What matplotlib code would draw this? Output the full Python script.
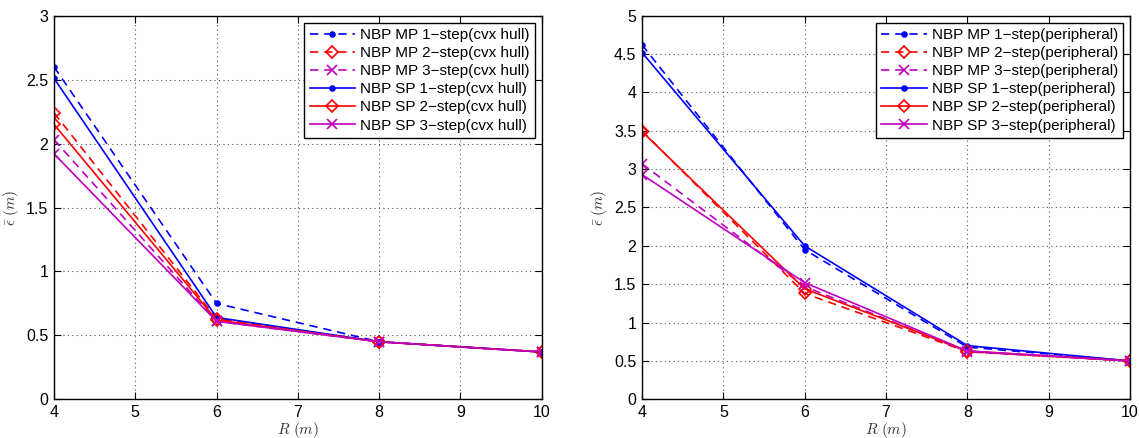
import matplotlib
matplotlib.use("Agg")
import matplotlib.pyplot as plt

plt.rcParams['font.family'] = ['Liberation Sans', 'DejaVu Sans']
plt.rcParams['mathtext.fontset'] = 'cm'

R = [4, 6, 8, 10]

# left panel (cvx hull)
mp1_cvx = [2.60, 0.75, 0.45, 0.37]
mp2_cvx = [2.24, 0.63, 0.45, 0.37]
mp3_cvx = [2.03, 0.61, 0.45, 0.37]
sp1_cvx = [2.51, 0.64, 0.45, 0.37]
sp2_cvx = [2.15, 0.62, 0.45, 0.37]
sp3_cvx = [1.92, 0.61, 0.45, 0.37]

# right panel (peripheral)
mp1_per = [4.62, 1.95, 0.68, 0.50]
mp2_per = [3.50, 1.38, 0.62, 0.50]
mp3_per = [3.07, 1.47, 0.62, 0.50]
sp1_per = [4.52, 2.00, 0.70, 0.50]
sp2_per = [3.49, 1.44, 0.63, 0.50]
sp3_per = [2.93, 1.52, 0.63, 0.50]

left_labels = ['NBP MP 1\u2212step(cvx hull)', 'NBP MP 2\u2212step(cvx hull)',
               'NBP MP 3\u2212step(cvx hull)', 'NBP SP 1\u2212step(cvx hull)',
               'NBP SP 2\u2212step(cvx hull)', 'NBP SP 3\u2212step(cvx hull)']
right_labels = ['NBP MP 1\u2212step(peripheral)', 'NBP MP 2\u2212step(peripheral)',
                'NBP MP 3\u2212step(peripheral)', 'NBP SP 1\u2212step(peripheral)',
                'NBP SP 2\u2212step(peripheral)', 'NBP SP 3\u2212step(peripheral)']

xticks = [4, 5, 6, 7, 8, 9, 10]
left_yticks = [0, 0.5, 1, 1.5, 2, 2.5, 3]
left_yticklabels = ['0', '0.5', '1', '1.5', '2', '2.5', '3']
right_yticks = [0, 0.5, 1, 1.5, 2, 2.5, 3, 3.5, 4, 4.5, 5]
right_yticklabels = ['0', '0.5', '1', '1.5', '2', '2.5', '3', '3.5', '4', '4.5', '5']

BLUE = '#0000ff'
RED = '#ff0000'
MAG = '#bf00bf'
DASH = (5, 3.5)
styles = [
    dict(color=BLUE, marker='.', ms=7, dashes=DASH),
    dict(color=RED, marker='D', ms=6, mfc='none', dashes=DASH),
    dict(color=MAG, marker='x', ms=6.5, dashes=DASH),
    dict(color=BLUE, marker='.', ms=7, ls='-'),
    dict(color=RED, marker='D', ms=6, mfc='none', ls='-'),
    dict(color=MAG, marker='x', ms=6.5, ls='-'),
]

fig = plt.figure(figsize=(11.39, 4.38), dpi=100)
ax1 = fig.add_axes([54 / 1139, 1 - 399.3 / 438, 487.7 / 1139, 383.6 / 438])
ax2 = fig.add_axes([642 / 1139, 1 - 399.3 / 438, 488 / 1139, 383.6 / 438])


def draw(ax, series, labels, ylim, yticks, yticklabels):
    for s, lab, st in zip(series, labels, styles):
        ax.plot(R, s, label=lab, lw=1.2, mew=1.2, **st)
    ax.set_xlim(4, 10)
    ax.set_ylim(*ylim)
    ax.set_xticks(xticks)
    ax.set_xticklabels([str(x) for x in xticks])
    ax.set_yticks(yticks)
    ax.set_yticklabels(yticklabels)
    ax.grid(True, ls=(0, (1, 3)), color='#555555', lw=0.8)
    ax.tick_params(direction='in', top=True, right=True, labelsize=11.5, length=5, width=0.8, pad=4)
    for sp in ax.spines.values():
        sp.set_linewidth(1.0)
    ax.set_xlabel(r'$R\ (m)$', fontsize=11, color='#333333', labelpad=0)
    ax.set_ylabel(r'$\bar{\epsilon}\ (m)$', fontsize=11, color='#333333', labelpad=4)
    leg = ax.legend(loc='upper right', fontsize=11, numpoints=1, handlelength=3.0,
                    fancybox=False, framealpha=1, edgecolor='black',
                    borderaxespad=0.45, labelspacing=0.27, borderpad=0.35, handletextpad=0.3)
    leg.get_frame().set_linewidth(1.0)


draw(ax1, [mp1_cvx, mp2_cvx, mp3_cvx, sp1_cvx, sp2_cvx, sp3_cvx], left_labels,
     (0, 3), left_yticks, left_yticklabels)
draw(ax2, [mp1_per, mp2_per, mp3_per, sp1_per, sp2_per, sp3_per], right_labels,
     (0, 5), right_yticks, right_yticklabels)

fig.savefig('out.png', dpi=100)
